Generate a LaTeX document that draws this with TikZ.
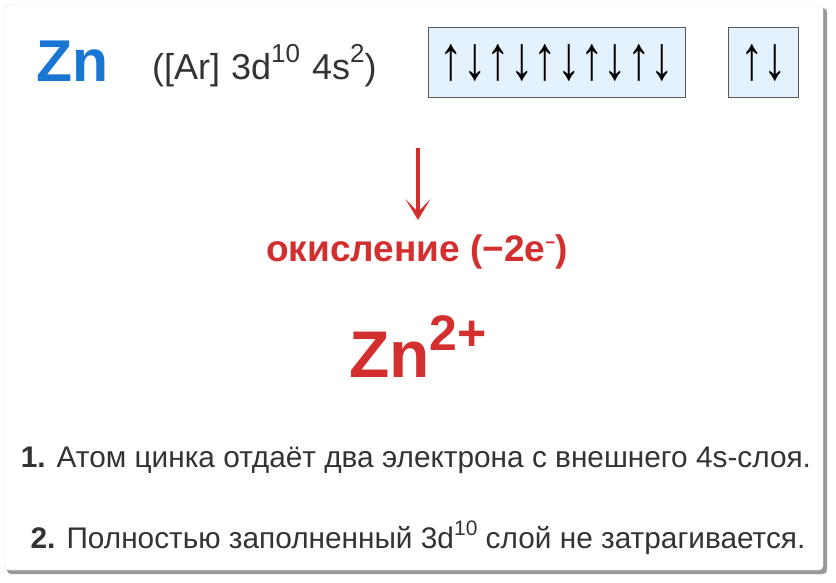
\documentclass[tikz,border=0pt]{standalone}
\usepackage{fontspec}
\setmainfont{Liberation Sans}
\usetikzlibrary{arrows.meta}
\definecolor{znblue}{HTML}{1976D2}
\definecolor{znred}{HTML}{D32F2F}
\definecolor{txtgray}{HTML}{333333}
\definecolor{boxfill}{HTML}{E3F2FD}
\definecolor{boxline}{HTML}{5A5A5A}
\newcommand{\fsz}[1]{\fontsize{#1}{#1}\selectfont}
\newcommand{\upsc}[3]{\raisebox{#3pt}{\fsz{#2}#1}}
\begin{document}
\begin{tikzpicture}[x=1pt,y=-1pt,
  orbbox/.style={draw=boxline,line width=1pt,fill=boxfill,inner sep=0pt,anchor=north west},
  spins/.style={text=black,font=\fsz{46},inner sep=0pt},
  note/.style={text=txtgray,font=\fsz{29.8},inner sep=0pt,anchor=base}]
\useasboundingbox (0,0) rectangle (836,583);
% card with shadow
\fill[black!40,rounded corners=4pt] (7,8) rectangle (827,574);
\fill[white,draw=black!12,rounded corners=4pt] (5,5) rectangle (823,570);
% header
\node[text=znblue,font=\bfseries\fsz{59},inner sep=0pt,anchor=base west] (zn) at (36,82) {Zn};
\node[text=txtgray,font=\fsz{36},inner sep=0pt,anchor=base west] (cfg) at (152,80)
  {([Ar]\hspace{11pt}3d\upsc{10}{26}{17}\hspace{12pt}4s\upsc{2}{26}{17})};
\node[orbbox,minimum width=257pt,minimum height=70pt] (d) at (428,27) {};
\node[orbbox,minimum width=70pt,minimum height=70pt] (s) at (728,27) {};
\node[spins] (dsp) at (d.center) {\scalebox{1.02}[1.35]{↑↓↑↓↑↓↑↓↑↓}};
\node[spins] (ssp) at (s.center) {\scalebox{1.02}[1.35]{↑↓}};
% oxidation arrow
\coordinate (atop) at (418,148);
\coordinate (abot) at (418,220);
\draw[znred,line width=3.4pt,-{Stealth[length=21pt,width=25pt,inset=13pt]}] (atop) -- (abot);
\node[text=znred,font=\bfseries\fsz{37},inner sep=0pt,anchor=base] (ox) at (417,261)
  {окисление (−2e\upsc{−}{17}{13})};
\node[text=znred,font=\bfseries\fsz{66},inner sep=0pt,anchor=base] (ion) at (418,377)
  {Zn\upsc{2+}{50}{27}};
% notes
\node[note] (n1) at (416,467) {\textbf{1.} Атом цинка отдаёт два электрона с внешнего 4s-слоя.};
\node[note] (n2) at (418,548) {\textbf{2.} Полностью заполненный 3d\upsc{10}{21}{13} слой не затрагивается.};
\end{tikzpicture}
\end{document}
